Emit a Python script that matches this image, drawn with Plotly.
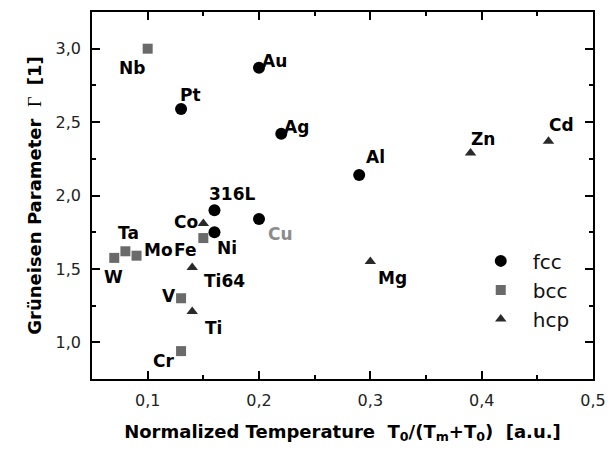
import plotly.graph_objects as go

# ---- data ----
fcc_names = ["Au", "Pt", "Ag", "316L", "Cu", "Ni", "Al"]
fcc_x = [0.20, 0.13, 0.22, 0.16, 0.20, 0.16, 0.29]
fcc_y = [2.87, 2.59, 2.42, 1.90, 1.84, 1.75, 2.14]

bcc_names = ["Nb", "W", "Ta", "Mo", "Fe", "V", "Cr"]
bcc_x = [0.10, 0.07, 0.08, 0.09, 0.15, 0.13, 0.13]
bcc_y = [3.00, 1.575, 1.62, 1.59, 1.71, 1.30, 0.94]

hcp_names = ["Co", "Ti64", "Ti", "Mg", "Zn", "Cd"]
hcp_x = [0.15, 0.14, 0.14, 0.30, 0.39, 0.46]
hcp_y = [1.81, 1.51, 1.21, 1.55, 2.29, 2.37]

# label offsets in pixels (dx right, dy down)
fcc_off = [(15, -7), (9, -14), (15, -7), (18, -16), (21, 15), (13, 16), (16, -18)]
bcc_off = [(-16, 19), (-1, 19), (3, -18), (22, -6), (-18, 12), (-12, -2), (-18, 10)]
hcp_off = [(-17, -1), (32, 14), (21, 17), (22, 16), (12, -14), (13, -16)]

FONT = "DejaVu Sans, sans-serif"
NB = "\u00a0"

fig = go.Figure()
fig.add_trace(go.Scatter(x=fcc_x, y=fcc_y, mode="markers", name="fcc", legendgroup="a",
                         marker=dict(symbol="circle", size=12, color="#000000")))
fig.add_trace(go.Scatter(x=bcc_x, y=bcc_y, mode="markers", name="bcc", legendgroup="b",
                         marker=dict(symbol="square", size=10, color="#6a6a6a")))
fig.add_trace(go.Scatter(x=hcp_x, y=hcp_y, mode="markers", name="hcp", legendgroup="c",
                         marker=dict(symbol="triangle-up", size=10, color="#2a2a2a")))

annots = []
for names, xs, ys, offs in [(fcc_names, fcc_x, fcc_y, fcc_off),
                            (bcc_names, bcc_x, bcc_y, bcc_off),
                            (hcp_names, hcp_x, hcp_y, hcp_off)]:
    for n, xv, yv, (dx, dy) in zip(names, xs, ys, offs):
        col = "#8c8c8c" if n == "Cu" else "#000000"
        annots.append(dict(x=xv, y=yv, xref="x", yref="y", text="<b>%s</b>" % n,
                           showarrow=False, xshift=dx, yshift=-dy,
                           font=dict(family=FONT, size=17, color=col)))

axis_common = dict(showline=True, linecolor="black", linewidth=1.5, mirror="ticks",
                   ticks="inside", ticklen=8, tickwidth=1.5, tickcolor="black",
                   showgrid=False, zeroline=False, automargin=False,
                   tickfont=dict(family=FONT, size=16, color="#222222"))

xtitle = ("<b>Normalized Temperature" + NB * 2 + "T<sub>0</sub>/(T<sub>m</sub>+T<sub>0</sub>)"
          + NB * 2 + "[a.u.]</b>")
ytitle = ("<b>Grüneisen Parameter</b>" + NB * 2
          + "<span style='font-family:Liberation Serif, serif'>Γ</span>"
          + NB * 2 + "<b>[1]</b>")

fig.update_layout(
    width=613, height=451,
    margin=dict(l=92, r=20, t=12, b=72),
    paper_bgcolor="white", plot_bgcolor="white",
    separators=",.",
    font=dict(family=FONT, color="black"),
    annotations=annots,
    legend=dict(x=0.752, y=0.375, xanchor="left", yanchor="top",
                font=dict(family=FONT, size=20, color="#111111"),
                tracegroupgap=0, bgcolor="rgba(0,0,0,0)", itemwidth=54),
    xaxis=dict(range=[0.05, 0.5], dtick=0.1, tick0=0, tickformat=".1f",
               minor=dict(dtick=0.05, ticks="inside", ticklen=4, tickcolor="black"),
               ticklabelstandoff=6,
               title=dict(text=xtitle, font=dict(family=FONT, size=18), standoff=16),
               **axis_common),
    yaxis=dict(range=[0.75, 3.25], dtick=0.5, tick0=0, tickformat=".1f",
               minor=dict(dtick=0.25, ticks="inside", ticklen=4, tickcolor="black"),
               ticklabelstandoff=6,
               title=dict(text=ytitle, font=dict(family=FONT, size=18), standoff=9),
               **axis_common),
)

fig.write_html("out.html")
